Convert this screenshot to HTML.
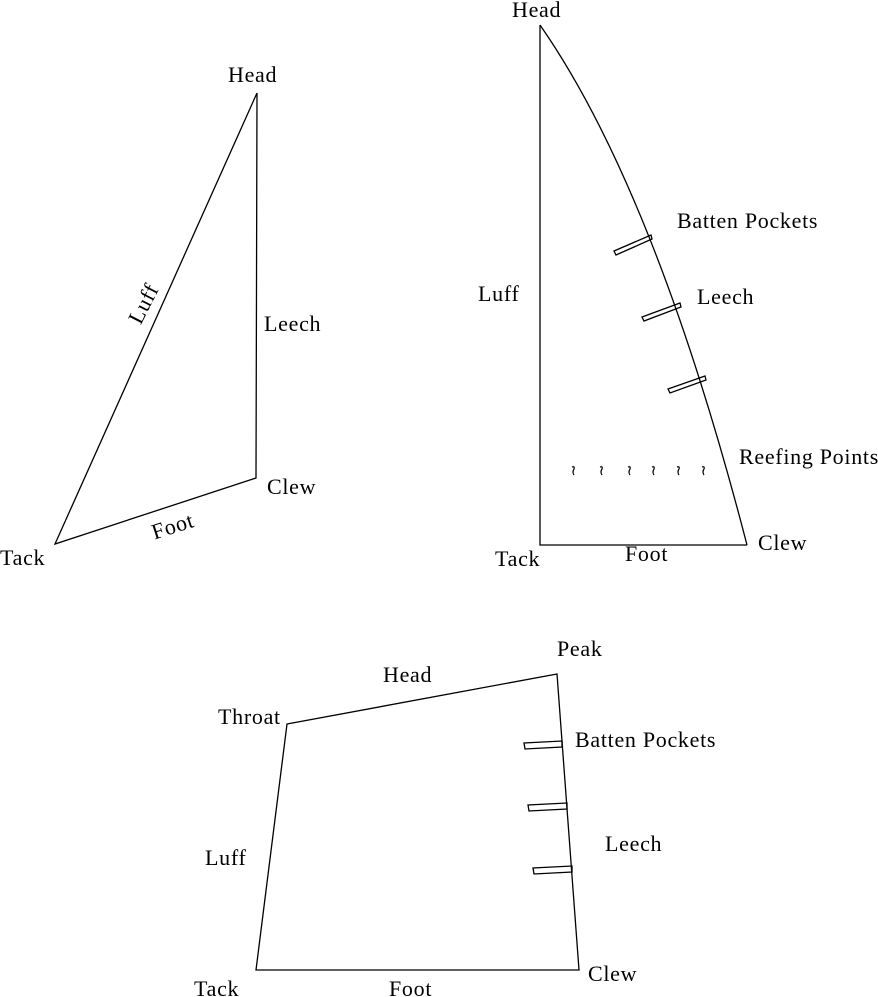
<!DOCTYPE html>
<html><head><meta charset="utf-8"><style>
html,body{margin:0;padding:0;background:#fff;}
svg{display:block;}
text{font-family:"Liberation Serif",serif;font-size:22px;letter-spacing:0.7px;fill:#000;}
</style></head><body>
<svg width="878" height="997" viewBox="0 0 878 997" xmlns="http://www.w3.org/2000/svg">
<rect width="878" height="997" fill="#fff"/>
<g fill="none" stroke="#000" stroke-width="1.3">
<polyline points="257,93 256,478 55,544 257,93"/>
<polyline points="540,25 540,545 747,545"/>
<path d="M540,25 Q655,190 747,545"/>
<polygon points="651,235 652,239 616,255 614,251"/>
<polygon points="680,303 681,307 644,321 642,317"/>
<polygon points="705,376 706,380 670,393 668,389"/>
<g stroke-width="1.2">
<path d="M572,467 q3,-1 2,2 q-2,3 0,6"/>
<path d="M600,467 q3,-1 2,2 q-2,3 0,6"/>
<path d="M628,467 q3,-1 2,2 q-2,3 0,6"/>
<path d="M652,467 q3,-1 2,2 q-2,3 0,6"/>
<path d="M677,467 q3,-1 2,2 q-2,3 0,6"/>
<path d="M702,467 q3,-1 2,2 q-2,3 0,6"/>
</g>
<polygon points="287,724 557,674 579,970 256,970"/>
<polygon points="562,741 562,747 525,749 524,743"/>
<polygon points="567,803 567,809 529,811 528,805"/>
<polygon points="572,866 572,872 534,874 533,868"/>
</g>
<text x="228" y="82">Head</text>
<text x="264" y="331">Leech</text>
<text x="267" y="494">Clew</text>
<text x="0" y="565">Tack</text>
<text transform="translate(150,307) rotate(-63)" text-anchor="middle">Luff</text>
<text transform="translate(175,533) rotate(-18)" text-anchor="middle">Foot</text>
<text x="512" y="17">Head</text>
<text x="677" y="228">Batten Pockets</text>
<text x="697" y="304">Leech</text>
<text x="478" y="301">Luff</text>
<text x="739" y="464">Reefing Points</text>
<text x="758" y="550">Clew</text>
<text x="625" y="561">Foot</text>
<text x="495" y="566">Tack</text>
<text x="557" y="656">Peak</text>
<text x="383" y="682">Head</text>
<text x="218" y="724">Throat</text>
<text x="575" y="747">Batten Pockets</text>
<text x="605" y="851">Leech</text>
<text x="205" y="865">Luff</text>
<text x="588" y="981">Clew</text>
<text x="389" y="996">Foot</text>
<text x="194" y="996">Tack</text>
</svg>
</body></html>
